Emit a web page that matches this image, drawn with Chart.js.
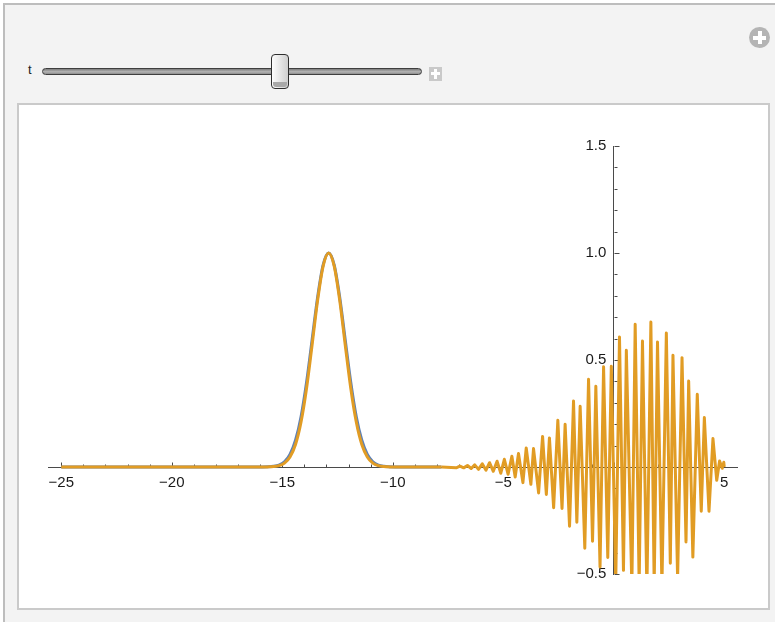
<!DOCTYPE html>
<html>
<head>
<meta charset="utf-8">
<script src="https://cdn.jsdelivr.net/npm/chart.js@4.4.1/dist/chart.umd.min.js"></script>
<style>
    html, body { margin: 0; padding: 0; background: #fff; }
    body { width: 775px; height: 622px; position: relative; overflow: hidden; font-family: 'Liberation Sans', Arial, sans-serif; }
    .panel { position: absolute; left: 3px; top: 3px; width: 800px; height: 650px; background: #f3f3f3; border-left: 2px solid #bdbdbd; border-top: 2px solid #bdbdbd; }
    .plot-box { position: absolute; left: 17px; top: 103px; width: 749px; height: 503px; background: #fff; border: 2px solid #cacaca; }
    .t-label { position: absolute; left: 28px; top: 62px; font-size: 13px; color: #222; }
    .track { position: absolute; left: 42px; top: 68px; width: 380px; height: 7px; box-sizing: border-box; border: 1px solid #3e3e3e; border-radius: 4px; background: linear-gradient(#7c7c7c, #b4b4b4 55%, #8c8c8c); }
    .thumb { position: absolute; left: 271px; top: 54px; width: 18px; height: 35px; box-sizing: border-box; border: 1px solid #2e2e2e; border-radius: 4px; background: linear-gradient(to right, #fdfdfd, #e6e6e6 50%, #cfcfcf); }
    .thumb::after { content: ''; position: absolute; left: 1px; right: 1px; bottom: 1px; height: 5px; border-radius: 0 0 3px 3px; background: #a9a9a9; }
    .plus-sq { position: absolute; left: 429px; top: 67px; width: 13px; height: 14px; background: #c9c9c9; }
    .plus-sq::before, .plus-sq::after, .plus-circ::before, .plus-circ::after { content: ''; position: absolute; background: #fff; }
    .plus-sq::before { left: 5px; top: 2px; width: 3px; height: 10px; }
    .plus-sq::after { left: 2px; top: 5px; width: 9px; height: 3px; }
    .plus-circ { position: absolute; left: 749px; top: 27px; width: 21px; height: 21px; border-radius: 50%; background: #b4b4b4; }
    .plus-circ::before { left: 8.5px; top: 4px; width: 4px; height: 13px; }
    .plus-circ::after { left: 4px; top: 8.5px; width: 13px; height: 4px; }
    #waveChart { position: absolute; left: 0; top: 0; z-index: 5; }
</style>
</head>
<body>
<div class="panel"></div>
<div class="plus-circ"></div>
<div class="t-label">t</div>
<div class="track"></div>
<div class="thumb"></div>
<div class="plus-sq"></div>
<div class="plot-box"></div>
<canvas id="waveChart" width="775" height="622"></canvas>

<script>
// gaussian hump (blue + orange)
const gaussX = [-25, -15.9, -15.65, -15.4, -15.15, -14.9, -14.65, -14.4, -14.15, -13.9, -13.65, -13.4, -13.15,
    -12.9, -12.65, -12.4, -12.15, -11.9, -11.65, -11.4, -11.15, -10.9, -10.65, -10.4, -10.15, -9.9, -7.8];
const blueY = [0, 0.0002, 0.0009, 0.0031, 0.0092, 0.0246, 0.0587, 0.125, 0.235, 0.396, 0.594, 0.793, 0.944,
    1.0, 0.944, 0.793, 0.594, 0.396, 0.235, 0.125, 0.0587, 0.0246, 0.0092, 0.0031, 0.0009, 0.0002, 0];
const orangeY = [0, 0.0001, 0.0005, 0.0019, 0.0063, 0.0183, 0.0468, 0.105, 0.21, 0.368, 0.57, 0.779, 0.939,
    1.0, 0.939, 0.779, 0.57, 0.368, 0.21, 0.105, 0.0468, 0.0183, 0.0063, 0.0019, 0.0005, 0.0001, 0];

// oscillating part (orange), zigzag vertices
const waveX = [-7.8, -7.13, -6.96, -6.79, -6.62, -6.45, -6.29, -6.12, -5.95, -5.78, -5.62, -5.45, -5.28, -5.11,
    -4.95, -4.78, -4.61, -4.46, -4.31, -4.11, -3.96, -3.75, -3.63, -3.40, -3.22, -3.05, -2.91, -2.72, -2.53,
    -2.34, -2.20, -2.00, -1.82, -1.67, -1.52, -1.31, -1.14, -0.96, -0.81, -0.62, -0.46, -0.27, -0.11, 0.09,
    0.26, 0.44, 0.57, 0.82, 0.97, 1.15, 1.30, 1.50, 1.68, 1.83, 1.98, 2.18, 2.38, 2.56, 2.68, 2.89, 3.09,
    3.27, 3.39, 3.58, 3.78, 3.96, 4.10, 4.31, 4.49, 4.66, 4.79, 4.91, 4.98, 5.0];
const waveY = [0, -0.004, 0.004, -0.004, 0.007, -0.007, 0.010, -0.011, 0.015, -0.015, 0.020, -0.020, 0.027, -0.029,
    0.036, -0.034, 0.050, -0.047, 0.063, -0.073, 0.089, -0.081, 0.086, -0.121, 0.143, -0.128, 0.136, -0.190, 0.218,
    -0.194, 0.200, -0.277, 0.308, -0.258, 0.284, -0.380, 0.410, -0.347, 0.377, -0.467, 0.468, -0.423, 0.471, -0.54,
    0.607, -0.483, 0.545, -0.56, 0.667, -0.55, 0.589, -0.58, 0.678, -0.55, 0.584, -0.56, 0.626, -0.450, 0.522,
    -0.52, 0.511, -0.350, 0.402, -0.421, 0.340, -0.207, 0.231, -0.207, 0.133, -0.062, 0.028, -0.006, 0.022, 0];

// axis labels
const xLabelValues = [-25, -20, -15, -10, -5, 5];
const yLabelValues = [-0.5, 0.5, 1.0, 1.5];

const AXIS_COLOR = '#4a4a4a';
const LABEL_FONT = { family: "'Liberation Sans', Arial, sans-serif", size: 15 };

function minus(s) {
    return s.replace('-', '\u2212');
}

function toPoints(xs, ys) {
    return xs.map((x, i) => ({ x: x, y: ys[i] }));
}

// mathematica style tick marks: x ticks point up, y ticks point right
const tickMarks = {
    id: 'tickMarks',
    beforeDatasetsDraw(chart) {
        const { ctx, scales: { x, y } } = chart;
        const x0 = Math.round(x.getPixelForValue(0)) + 0.5;
        const y0 = Math.round(y.getPixelForValue(0)) + 0.5;
        ctx.save();
        ctx.strokeStyle = AXIS_COLOR;
        ctx.lineWidth = 1;
        ctx.beginPath();
        x.ticks.forEach(t => {
            const px = Math.round(x.getPixelForValue(t.value)) + 0.5;
            const len = Math.abs(t.value % 5) < 1e-6 ? 5 : 3;
            ctx.moveTo(px, y0);
            ctx.lineTo(px, y0 - len);
        });
        y.ticks.forEach(t => {
            const py = Math.round(y.getPixelForValue(t.value)) + 0.5;
            const major = Math.abs(t.value * 2 - Math.round(t.value * 2)) < 1e-6;
            ctx.moveTo(x0, py);
            ctx.lineTo(x0 + (major ? 5 : 3), py);
        });
        ctx.stroke();
        ctx.restore();
    }
};

const ctx = document.getElementById('waveChart').getContext('2d');
new Chart(ctx, {
    type: 'line',
    data: {
        datasets: [
            {
                data: toPoints(gaussX, blueY),
                borderColor: '#5e81b5',
                borderWidth: 3,
                pointRadius: 0,
                cubicInterpolationMode: 'monotone',
                order: 3
            },
            {
                data: toPoints(gaussX, orangeY),
                borderColor: '#e19c24',
                borderWidth: 3,
                pointRadius: 0,
                cubicInterpolationMode: 'monotone',
                order: 2
            },
            {
                data: toPoints(waveX, waveY),
                borderColor: '#e19c24',
                borderWidth: 3,
                borderJoinStyle: 'round',
                pointRadius: 0,
                tension: 0,
                order: 1
            }
        ]
    },
    options: {
        responsive: false,
        animation: false,
        events: [],
        layout: { padding: { left: 48, right: 37.5, top: 146, bottom: 48 } },
        plugins: { legend: { display: false }, tooltip: { enabled: false } },
        scales: {
            x: {
                type: 'linear',
                min: -25.6,
                max: 5.6,
                position: { y: 0 },
                afterFit: s => { s.height = 0; },
                grid: { drawOnChartArea: false, drawTicks: false },
                border: { display: true, color: AXIS_COLOR, width: 1 },
                ticks: {
                    stepSize: 1,
                    includeBounds: false,
                    autoSkip: false,
                    maxRotation: 0,
                    padding: 7,
                    color: '#1a1a1a',
                    font: LABEL_FONT,
                    callback: v => xLabelValues.includes(v) ? minus(String(v)) : ''
                }
            },
            y: {
                type: 'linear',
                min: -0.5,
                max: 1.5,
                position: { x: 0 },
                afterFit: s => { s.width = 0; },
                grid: { drawOnChartArea: false, drawTicks: false },
                border: { display: true, color: AXIS_COLOR, width: 1 },
                ticks: {
                    stepSize: 0.1,
                    autoSkip: false,
                    color: '#1a1a1a',
                    font: LABEL_FONT,
                    // label sits right-aligned on the axis, en space keeps it off the line
                    callback: v => yLabelValues.some(l => Math.abs(l - v) < 1e-6) ? minus(v.toFixed(1)) + '\u2002' : ''
                }
            }
        }
    },
    plugins: [tickMarks]
});
</script>
</body>
</html>
